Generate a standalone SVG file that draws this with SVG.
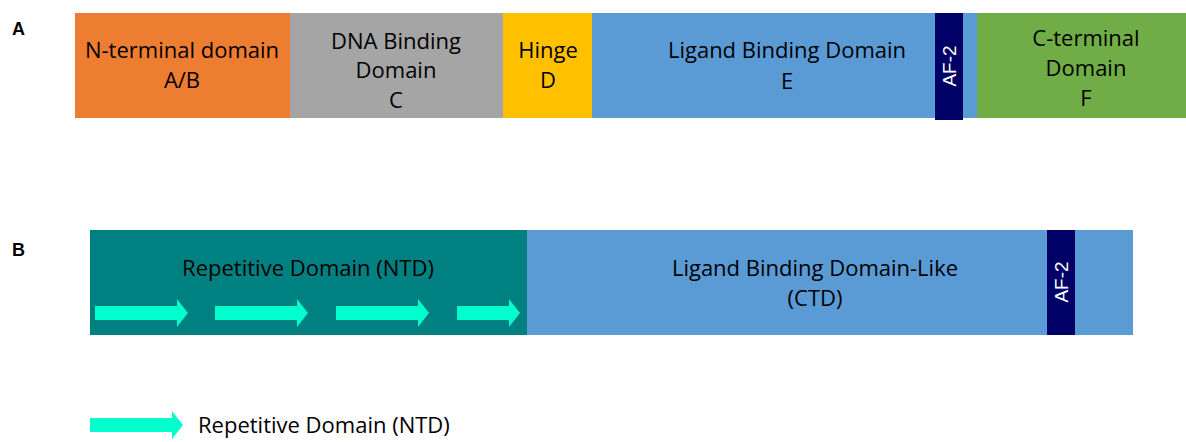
<svg xmlns="http://www.w3.org/2000/svg" width="1186" height="442" viewBox="0 0 1186 442">
  <defs>
    <style>
      .lbl { font-family: "Open Sans", "Liberation Sans", sans-serif; font-size: 22px; fill: #000000; text-anchor: middle; }
      .af { font-family: "Liberation Sans", Arial, sans-serif; font-size: 19px; fill: #ffffff; text-anchor: middle; }
      .tag { font-family: "Liberation Sans", Arial, sans-serif; font-size: 18px; font-weight: bold; fill: #000000; }
      .rep { fill: #00ffcc; }
    </style>
    <!-- block arrow marking one repeat unit, drawn at origin, 93 px long -->
    <path id="repeat" class="rep" d="M0,-7 H82 V-14 L93,0 L82,14 V7 H0 Z"/>
  </defs>
  <rect width="1186" height="442" fill="#ffffff"/>

  <!-- Panel A: nuclear receptor domain layout -->
  <text class="tag" x="12" y="35">A</text>
  <g id="ntd-ab">
    <rect x="75" y="13" width="215" height="105" fill="#ed7d31"/>
    <text class="lbl" x="182" y="58">N-terminal domain</text>
    <text class="lbl" x="182" y="88">A/B</text>
  </g>
  <g id="dbd-c">
    <rect x="290" y="13" width="213" height="105" fill="#a5a5a5"/>
    <text class="lbl" x="396" y="49">DNA Binding</text>
    <text class="lbl" x="396" y="78">Domain</text>
    <text class="lbl" x="396" y="108">C</text>
  </g>
  <g id="hinge-d">
    <rect x="503" y="13" width="89" height="105" fill="#ffc000"/>
    <text class="lbl" x="548" y="58">Hinge</text>
    <text class="lbl" x="548" y="88">D</text>
  </g>
  <g id="lbd-e">
    <rect x="592" y="13" width="385" height="105" fill="#5b9bd5"/>
    <text class="lbl" x="787" y="58">Ligand Binding Domain</text>
    <text class="lbl" x="787" y="89">E</text>
  </g>
  <g id="af2-a">
    <rect x="935" y="13" width="28" height="107" fill="#000066"/>
    <text class="af" transform="translate(956,66) rotate(-90)">AF-2</text>
  </g>
  <g id="ctd-f">
    <rect x="977" y="13" width="209" height="105" fill="#70ad47"/>
    <text class="lbl" x="1086" y="46">C-terminal</text>
    <text class="lbl" x="1086" y="76">Domain</text>
    <text class="lbl" x="1086" y="106">F</text>
  </g>

  <!-- Panel B: repetitive N-terminal domain plus LBD-like C-terminal domain -->
  <text class="tag" x="12" y="256">B</text>
  <g id="rep-ntd">
    <rect x="90" y="230" width="437" height="105" fill="#008080"/>
    <text class="lbl" x="308" y="276">Repetitive Domain (NTD)</text>
    <use href="#repeat" x="95" y="313"/>
    <use href="#repeat" x="215" y="313"/>
    <use href="#repeat" x="336" y="313"/>
    <path class="rep" d="M457,306 H509 V299 L520,313 L509,327 V320 H457 Z"/>
  </g>
  <g id="lbd-like">
    <rect x="527" y="230" width="606" height="105" fill="#5b9bd5"/>
    <text class="lbl" x="815" y="276">Ligand Binding Domain-Like</text>
    <text class="lbl" x="815" y="306">(CTD)</text>
  </g>
  <g id="af2-b">
    <rect x="1047" y="230" width="28" height="105" fill="#000066"/>
    <text class="af" transform="translate(1068,282) rotate(-90)">AF-2</text>
  </g>

  <!-- Legend -->
  <g id="legend">
    <use href="#repeat" x="90" y="425"/>
    <text class="lbl" x="198" y="433" style="text-anchor:start">Repetitive Domain (NTD)</text>
  </g>

  <g id="connectors"/>
</svg>
